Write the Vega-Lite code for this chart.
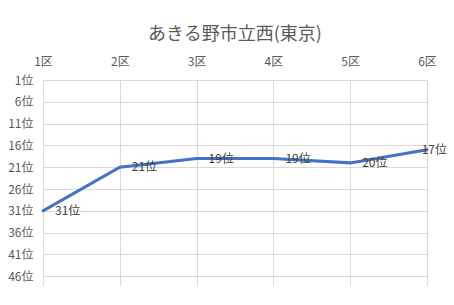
{
  "$schema": "https://vega.github.io/schema/vega-lite/v6.json",
  "width": 384,
  "height": 205,
  "autosize": {"type": "none"},
  "padding": {"left": 43, "top": 80, "right": 27, "bottom": 20},
  "background": "white",
  "title": {
    "text": "あきる野市立西(東京)",
    "font": "Noto Sans CJK JP",
    "fontSize": 18,
    "fontWeight": "normal",
    "color": "#595959",
    "anchor": "middle",
    "offset": 11
  },
  "config": {
    "view": {"stroke": null},
    "axis": {
      "labelFont": "Noto Sans CJK JP",
      "labelFontSize": 12,
      "labelColor": "#595959",
      "gridColor": "#d9d9d9",
      "gridWidth": 1,
      "domain": false,
      "ticks": false,
      "title": null
    }
  },
  "data": {
    "values": [
      {"ku": "1区", "rank": 31},
      {"ku": "2区", "rank": 21},
      {"ku": "3区", "rank": 19},
      {"ku": "4区", "rank": 19},
      {"ku": "5区", "rank": 20},
      {"ku": "6区", "rank": 17}
    ]
  },
  "encoding": {
    "x": {
      "field": "ku",
      "type": "ordinal",
      "scale": {"type": "point", "padding": 0},
      "axis": {"orient": "top", "labelAngle": 0, "labelPadding": 12, "grid": true}
    },
    "y": {
      "field": "rank",
      "type": "quantitative",
      "scale": {"domain": [1, 48], "reverse": true, "nice": false, "zero": false},
      "axis": {
        "values": [1, 6, 11, 16, 21, 26, 31, 36, 41, 46],
        "labelExpr": "datum.value + '位'",
        "labelPadding": 10,
        "grid": true
      }
    }
  },
  "layer": [
    {
      "mark": {"type": "line", "color": "#4472C4", "strokeWidth": 3, "strokeCap": "round"}
    },
    {
      "mark": {
        "type": "text",
        "font": "Noto Sans CJK JP",
        "fontSize": 12,
        "color": "#404040",
        "align": {"expr": "datum.ku == '6区' ? 'right' : 'left'"},
        "dx": {"expr": "datum.ku == '6区' ? 20 : 12"},
        "baseline": "middle",
        "text": {"expr": "datum.rank + '位'"}
      }
    }
  ]
}
